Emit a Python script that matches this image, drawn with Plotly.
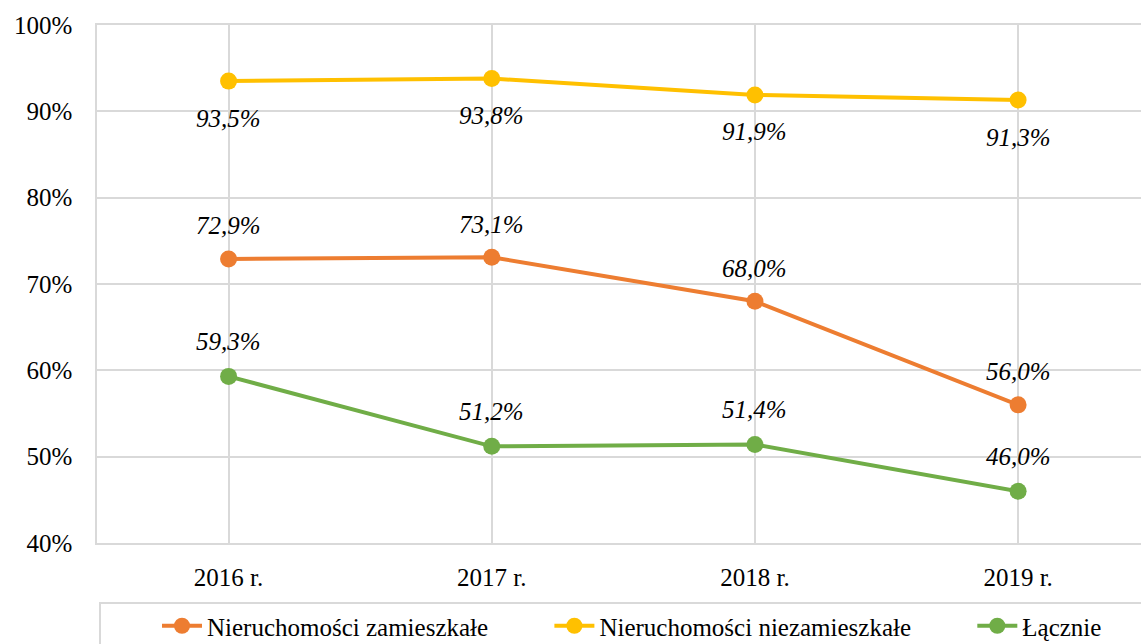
import plotly.graph_objects as go

years = ["2016 r.", "2017 r.", "2018 r.", "2019 r."]
zamieszkale = [72.9, 73.1, 68.0, 56.0]
niezamieszkale = [93.5, 93.8, 91.9, 91.3]
lacznie = [59.3, 51.2, 51.4, 46.0]

series = [
    ("Nieruchomości zamieszkałe", zamieszkale, "#ED7D31", 33, 9),
    ("Nieruchomości niezamieszkałe", niezamieszkale, "#FFC000", -37, 9),
    ("Łącznie", lacznie, "#70AD47", 35, 0),
]

FONT = "Liberation Serif"
FS = 25
fig = go.Figure()
annotations = []
for name, vals, color, shift, pad in series:
    fig.add_trace(go.Scatter(
        x=years, y=vals, name=name + "\u00a0" * pad, mode="lines+markers",
        line=dict(color=color, width=4),
        marker=dict(color=color, size=17),
    ))
    for xv, yv in zip(years, vals):
        annotations.append(dict(
            x=xv, y=yv, xref="x", yref="y", showarrow=False,
            text=f"{yv:.1f}%".replace(".", ","), yshift=shift,
            font=dict(family=FONT, size=FS, color="#000000", style="italic"),
        ))

L, R, T, B = 97, 0, 25, 101
W, H = 1141, 644
pw, ph = W - L - R, H - T - B

fig.update_layout(
    width=W, height=H,
    margin=dict(l=L, r=R, t=T, b=B, autoexpand=False),
    paper_bgcolor="white", plot_bgcolor="white",
    font=dict(family=FONT, size=FS, color="#000000"),
    annotations=annotations,
    showlegend=True,
    legend=dict(
        orientation="h", x=(157 - L) / pw, xanchor="left",
        y=-(626 - (T + ph)) / ph, yanchor="middle",
        font=dict(family=FONT, size=FS), bgcolor="rgba(0,0,0,0)",
        itemwidth=40,
    ),
    shapes=[dict(
        type="rect", xref="paper", yref="paper",
        x0=(100 - L) / pw, x1=1.1,
        y0=-(603 - (T + ph)) / ph, y1=-0.4,
        line=dict(color="#D9D9D9", width=2), fillcolor="rgba(0,0,0,0)",
        layer="below",
    )],
)
fig.update_xaxes(
    type="category", range=[-0.5, 3.467], automargin=False,
    showgrid=True, gridcolor="#D9D9D9", gridwidth=1.5,
    showline=True, mirror=True, linecolor="#D9D9D9", linewidth=1.5,
    zeroline=False, ticks="", ticklabelstandoff=11,
)
fig.update_yaxes(
    range=[40, 100], dtick=10, ticksuffix="%", automargin=False,
    showgrid=True, gridcolor="#D9D9D9", gridwidth=1.5,
    showline=True, linecolor="#D9D9D9", linewidth=1.5,
    zeroline=False, ticks="", ticklabelstandoff=18,
)
fig.write_html(
    "out.html",
    config={"displayModeBar": False},
    post_script="document.body.style.margin='0';document.body.style.overflow='hidden';",
)
